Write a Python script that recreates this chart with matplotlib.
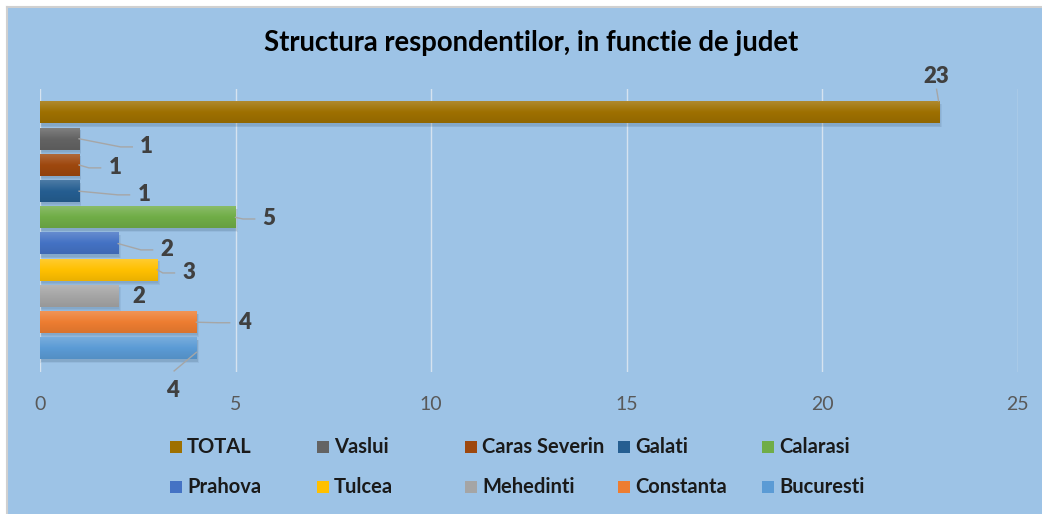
import numpy as np
import matplotlib.pyplot as plt
from matplotlib.colors import LinearSegmentedColormap, to_rgb
from matplotlib.patches import Rectangle

plt.rcParams['font.family'] = ['Lato', 'DejaVu Sans']

# Datele graficului (de jos in sus)
judete = ['Bucuresti', 'Constanta', 'Mehedinti', 'Tulcea', 'Prahova',
          'Calarasi', 'Galati', 'Caras Severin', 'Vaslui', 'TOTAL']
valori = [4, 4, 2, 3, 2, 5, 1, 1, 1, 23]
culori = ['#5B9BD5', '#ED7D31', '#A5A5A5', '#FFC000', '#4472C4',
          '#70AD47', '#255E91', '#9E480E', '#636363', '#9E7000']
xticks = [0, 5, 10, 15, 20, 25]

# pozitia etichetelor (dx fata de capatul barei, y in unitati de bara)
eticheta_dx = [-0.62, 1.22, 0.53, 0.81, 1.25, 0.86, 1.66, 0.92, 1.73, -0.08]
eticheta_y = [-1.61, 0.98, 1.97, 2.88, 3.76, 4.94, 5.86, 6.89, 7.69, 10.39]
cu_linie = [True, True, False, True, True, True, True, True, True, True]

fundal = '#9DC3E6'
fig = plt.figure(figsize=(10.42, 5.14), dpi=100, facecolor=fundal)
W, H = 1042, 514

# margine alba sus si in stanga, ca in captura originala
fig.patches.append(Rectangle((0, 0), 6 / W, 1, transform=fig.transFigure,
                             facecolor='white', edgecolor='none', zorder=0))
fig.patches.append(Rectangle((0, 1 - 6 / H), 1, 6 / H, transform=fig.transFigure,
                             facecolor='white', edgecolor='none', zorder=0))
fig.add_artist(plt.Line2D([7 / W, 7 / W], [0, 1 - 7 / H], transform=fig.transFigure,
                          color='#D0D0D0', lw=1.5))
fig.add_artist(plt.Line2D([7 / W, 1], [1 - 7 / H, 1 - 7 / H], transform=fig.transFigure,
                          color='#D0D0D0', lw=1.5))

ax = fig.add_axes([40 / W, 1 - 372 / H, (1017.5 - 40) / W, (372 - 89) / H])
ax.set_facecolor(fundal)
for s in ax.spines.values():
    s.set_visible(False)

h = 0.83
for i, (v, c) in enumerate(zip(valori, culori)):
    # umbra difuza
    for k, a in enumerate([0.07, 0.07, 0.07]):
        e = 0.03 * k
        ax.add_patch(Rectangle((0.03 - e / 2, i - h / 2 - 0.09 - e), v + e, h + e,
                               facecolor='#28405A', alpha=a, edgecolor='none',
                               zorder=2))
    base = np.array(to_rgb(c))
    light = base + (1 - base) * 0.18
    dark = base * 0.92
    cmap = LinearSegmentedColormap.from_list('g', [dark, base, light])
    grad = np.linspace(0, 1, 50).reshape(-1, 1)
    ax.imshow(grad, extent=[0, v, i - h / 2, i + h / 2], origin='lower',
              cmap=cmap, aspect='auto', zorder=3, interpolation='bicubic')

    lx = v + eticheta_dx[i]
    ly = eticheta_y[i]
    ax.text(lx, ly, str(v), ha='center', va='center', fontsize=16,
            fontweight='heavy', color='#404040', zorder=5, clip_on=False)
    if cu_linie[i]:
        if i == 0:
            ax.plot([v, lx + 0.05], [i - 0.15, ly + 0.75], color='#A6A6A6',
                    lw=1, zorder=4)
        elif i == len(valori) - 1:
            ax.plot([v - 0.02, v - 0.07], [i + 0.45, ly - 0.5], color='#A6A6A6',
                    lw=1, zorder=4, clip_on=False)
        else:
            x_end = lx - 0.37
            ax.plot([v, x_end - 0.3, x_end], [i, ly, ly], color='#A6A6A6',
                    lw=1, zorder=4)

ax.set_xlim(0, 25)
ax.set_ylim(-0.9, 9.9)
ax.set_xticks(xticks)
ax.set_yticks([])
ax.grid(axis='x', color='#D6E3F0', lw=1, zorder=1)
ax.set_axisbelow(True)
ax.tick_params(axis='x', length=0, pad=17, labelsize=14, labelcolor='#595959')

fig.text(531 / W, 1 - 43 / H, 'Structura respondentilor, in functie de judet',
         ha='center', va='center', fontsize=19.8, fontweight='bold', color='#000000')

# legenda, pe doua randuri
leg_x = [170, 317, 465, 618, 762]
leg_y = [447, 487]
ordine = list(reversed(range(len(judete))))
for k, idx in enumerate(ordine):
    col = k % 5
    row = k // 5
    x0 = leg_x[col] / W
    y0 = 1 - leg_y[row] / H
    fig.patches.append(Rectangle((x0, y0 - 6 / H), 12 / W, 12 / H,
                                 transform=fig.transFigure, facecolor=culori[idx],
                                 edgecolor='none'))
    fig.text(x0 + 17 / W, y0, judete[idx], ha='left', va='center',
             fontsize=14.5, fontweight='bold', color='#1A1A1A')

fig.savefig('out.png', dpi=100, facecolor=fundal)
